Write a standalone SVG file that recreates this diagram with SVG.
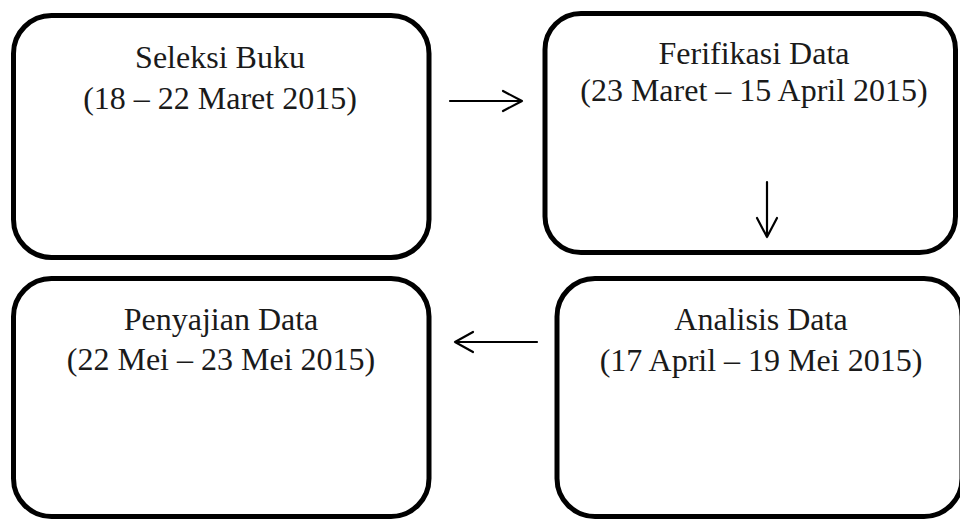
<svg xmlns="http://www.w3.org/2000/svg" width="960" height="520" viewBox="0 0 960 520">
<style>
.box{fill:#fff;stroke:#000;stroke-width:5}
.t{font-family:"Liberation Serif","Times New Roman",serif;font-size:32px;fill:#1a1a1a;text-anchor:middle}
.c{fill:none;stroke:#000;stroke-width:2.2;stroke-linecap:round;stroke-linejoin:round}
</style>
<rect width="960" height="520" fill="#fff"/>
<g id="node-seleksi">
<rect class="box" x="13.5" y="15.5" width="415.5" height="242" rx="38" ry="38"/>
<text class="t" x="220" y="68">Seleksi Buku</text>
<text class="t" x="220" y="109">(18 – 22 Maret 2015)</text>
</g>
<g id="node-ferifikasi">
<rect class="box" x="545" y="13.5" width="410.5" height="239" rx="36" ry="36"/>
<text class="t" x="754" y="64">Ferifikasi Data</text>
<text class="t" x="754" y="101">(23 Maret – 15 April 2015)</text>
</g>
<g id="node-penyajian">
<rect class="box" x="13.5" y="278.5" width="415.5" height="238" rx="38" ry="38"/>
<text class="t" x="221" y="330">Penyajian Data</text>
<text class="t" x="221" y="370">(22 Mei – 23 Mei 2015)</text>
</g>
<g id="node-analisis">
<rect class="box" x="557" y="278.5" width="405" height="238" rx="38" ry="38"/>
<text class="t" x="761" y="330">Analisis Data</text>
<text class="t" x="761" y="371">(17 April – 19 Mei 2015)</text>
</g>
<g id="connectors">
<path class="c" d="M450 101 H522 M503 91 L522 101 L503 111"/>
<path class="c" d="M767 182 V237 M757 218 L767 237 L777 218"/>
<path class="c" d="M537 342 H455 M473 332 L455 342 L473 352"/>
</g>
</svg>
